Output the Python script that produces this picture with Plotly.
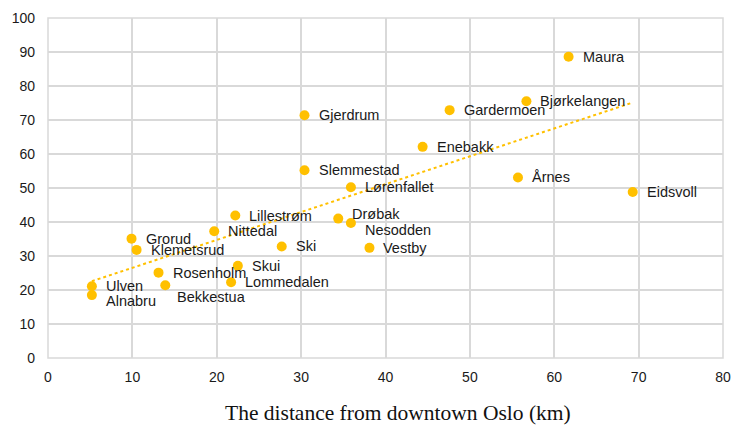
import numpy as np
import plotly.graph_objects as go

names = ["Ulven", "Alnabru", "Grorud", "Klemetsrud", "Rosenholm", "Bekkestua",
         "Nittedal", "Lillestrøm", "Skui", "Lommedalen", "Ski", "Drøbak",
         "Nesodden", "Vestby", "Lørenfallet", "Slemmestad", "Gjerdrum",
         "Maura", "Bjørkelangen", "Gardermoen", "Enebakk", "Årnes", "Eidsvoll"]
distance_km = [5.2, 5.2, 9.9, 10.5, 13.1, 13.9,
               19.7, 22.2, 22.5, 21.7, 27.7, 34.4,
               35.9, 38.1, 35.9, 30.4, 30.4,
               61.7, 56.7, 47.6, 44.4, 55.7, 69.3]
values = [21.1, 18.5, 35.1, 31.8, 25.1, 21.4,
          37.3, 41.9, 27.1, 22.3, 32.8, 41.0,
          39.7, 32.4, 50.2, 55.2, 71.4,
          88.6, 75.5, 72.9, 62.1, 53.1, 48.8]
x_ticks = [0, 10, 20, 30, 40, 50, 60, 70, 80]
y_ticks = [0, 10, 20, 30, 40, 50, 60, 70, 80, 90, 100]
x_title = "The distance from downtown Oslo (km)"

GOLD = "#FFC000"
GRID = "#D9D9D9"

# label tweaks (pixel shifts) for overlapping labels
label_shift = {"Alnabru": (12, -6), "Bekkestua": (10, -12), "Nesodden": (12, -7),
               "Drøbak": (12, 5)}

fig = go.Figure()

# linear trendline (least squares fit over the data)
coef = np.polyfit(distance_km, values, 1)
tx = np.array([min(distance_km), max(distance_km)])
fig.add_trace(go.Scatter(x=tx, y=np.polyval(coef, tx), mode="lines",
                         line=dict(color=GOLD, width=2, dash="dot"),
                         hoverinfo="skip", showlegend=False))

fig.add_trace(go.Scatter(x=distance_km, y=values, mode="markers",
                         marker=dict(color=GOLD, size=10), text=names,
                         showlegend=False))

for n, xv, yv in zip(names, distance_km, values):
    dx, dy = label_shift.get(n, (12, 0))
    fig.add_annotation(x=xv, y=yv, text=n, showarrow=False, xanchor="left",
                       yanchor="middle", xshift=dx, yshift=dy,
                       font=dict(family="Liberation Sans, Arial", size=14.5, color="#1a1a1a"))

fig.add_annotation(x=0.5, y=0, xref="paper", yref="paper", text=x_title,
                   showarrow=False, xanchor="center", yanchor="middle",
                   xshift=12, yshift=-55,
                   font=dict(family="Liberation Serif, Times New Roman", size=21.5, color="#111111"))

fig.update_layout(
    width=731, height=421,
    margin=dict(l=40, r=16, t=10, b=71),
    paper_bgcolor="white", plot_bgcolor="white",
    font=dict(family="Liberation Sans, Arial", size=14, color="#1a1a1a"),
    xaxis=dict(range=[0, 80], tickvals=x_ticks, showgrid=True, gridcolor=GRID,
               gridwidth=1.5, zeroline=False, showline=False, ticks="",
               ticklabelstandoff=9, automargin=False),
    yaxis=dict(range=[0, 100], tickvals=y_ticks, showgrid=True, gridcolor=GRID,
               gridwidth=1.5, zeroline=False, showline=False, ticks="",
               ticklabelstandoff=12, automargin=False),
)
fig.add_shape(type="rect", xref="paper", yref="paper", x0=0, y0=0, x1=1, y1=1,
              line=dict(color=GRID, width=1.5), layer="below")

fig.write_html("out.html")
